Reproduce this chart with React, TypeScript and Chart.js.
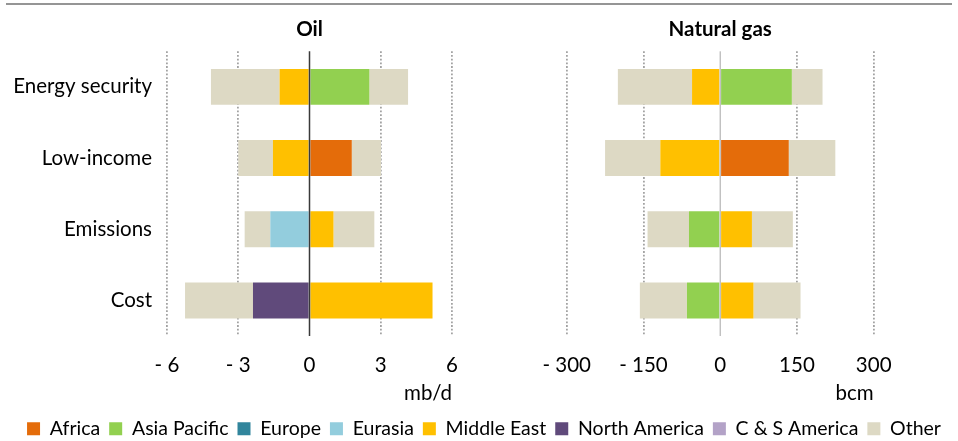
import React, { useEffect, useRef } from 'react';
import { Chart, registerables } from 'chart.js';

Chart.register(...registerables);

// ---------- data ----------
const categories = ['Energy security', 'Low-income', 'Emissions', 'Cost'];
const regionNames = ['Africa', 'Asia Pacific', 'Europe', 'Eurasia', 'Middle East', 'North America', 'C & S America', 'Other'];
const regionColors = ['#E46C0A', '#92D050', '#31859C', '#93CDDD', '#FFC000', '#604A7B', '#B3A2C7', '#DDD9C4'];

// Oil (mb/d)
const oilAfrica = [null, 1.78, null, null];
const oilAsiaPacific = [2.52, null, null, null];
const oilEurope = [null, null, null, null];
const oilEurasia = [null, null, -1.65, null];
const oilMiddleEast = [-1.26, -1.54, 1.01, 5.18];
const oilNorthAmerica = [null, null, null, -2.38];
const oilCSAmerica = [null, null, null, null];
const oilOtherNeg = [-2.89, -1.46, -1.08, -2.86];
const oilOtherPos = [1.63, 1.23, 1.72, null];

// Natural gas (bcm)
const gasAfrica = [null, 134, null, null];
const gasAsiaPacific = [140, null, -61, -65];
const gasEurope = [null, null, null, null];
const gasEurasia = [null, null, null, null];
const gasMiddleEast = [-55, -117, 62, 65];
const gasNorthAmerica = [null, null, null, null];
const gasCSAmerica = [null, null, null, null];
const gasOtherNeg = [-145, -108, -81, -92];
const gasOtherPos = [60, 91, 80, 92];

const oilTicks = [-6, -3, 0, 3, 6];
const gasTicks = [-300, -150, 0, 150, 300];

const FONT = 'Lato';
const W = 958;
const H = 441;
const FS = 20.5;
const PAD_LEFT = 10;

function buildDatasets(series: (number | null)[][], otherPos: (number | null)[]) {
  const ds: any[] = series.map((data, i) => ({
    label: regionNames[i],
    data,
    backgroundColor: regionColors[i],
    borderWidth: 0,
    categoryPercentage: 1,
    barPercentage: 0.505,
  }));
  ds.push({
    label: 'Other ',
    data: otherPos,
    backgroundColor: regionColors[7],
    borderWidth: 0,
    categoryPercentage: 1,
    barPercentage: 0.505,
  });
  return ds;
}

const tickFmt = (v: any) => {
  const n = Number(v);
  return n < 0 ? '- ' + Math.abs(n) : String(n);
};

function zeroLinePlugin(color: string, width: number) {
  return {
    id: 'zeroLine',
    afterDatasetsDraw(chart: any) {
      const xs = chart.scales.x;
      const area = chart.chartArea;
      const ctx = chart.ctx;
      const px = xs.getPixelForValue(0);
      ctx.save();
      ctx.strokeStyle = color;
      ctx.lineWidth = width;
      ctx.beginPath();
      ctx.moveTo(px, area.top);
      ctx.lineTo(px, area.bottom);
      ctx.stroke();
      ctx.restore();
    },
  };
}

const topRulePlugin = {
  id: 'topRule',
  afterDraw(chart: any) {
    const ctx = chart.ctx;
    ctx.save();
    ctx.strokeStyle = '#959595';
    ctx.lineWidth = 2;
    ctx.beginPath();
    ctx.moveTo(6, 4);
    ctx.lineTo(952, 4);
    ctx.stroke();
    ctx.restore();
  },
};

function xScale(ticks: number[], unit: string) {
  return {
    type: 'linear',
    position: 'bottom',
    stacked: true,
    min: ticks[0],
    max: ticks[ticks.length - 1],
    afterBuildTicks: (s: any) => {
      s.ticks = ticks.map((v) => ({ value: v }));
    },
    afterFit: (s: any) => {
      s.height = 74;
    },
    grid: {
      drawTicks: false,
      lineWidth: 1.8,
      color: (c: any) => (c.tick && c.tick.value === 0 ? 'rgba(0,0,0,0)' : '#A3A3A3'),
    },
    border: { display: false, dash: [1.8, 1.9] },
    ticks: {
      padding: 16.7,
      color: '#000',
      font: { family: FONT, size: FS },
      callback: tickFmt,
    },
    title: {
      display: true,
      text: unit,
      align: 'end',
      color: '#000',
      font: { family: FONT, size: FS },
      padding: { top: 0, bottom: 4 },
    },
  };
}

const titleOpts = (text: string) => ({
  display: true,
  text,
  fullSize: false,
  color: '#000',
  font: { family: FONT, size: FS, weight: 'bold' },
  padding: { top: 16.7, bottom: 10 },
});

export default function App() {
  const oilRef = useRef<HTMLCanvasElement>(null);
  const gasRef = useRef<HTMLCanvasElement>(null);

  useEffect(() => {
    Chart.defaults.font.family = FONT;
    Chart.defaults.color = '#000';

    const oil = new Chart(oilRef.current as HTMLCanvasElement, {
      type: 'bar',
      data: {
        labels: categories,
        datasets: buildDatasets(
          [oilAfrica, oilAsiaPacific, oilEurope, oilEurasia, oilMiddleEast, oilNorthAmerica, oilCSAmerica, oilOtherNeg],
          oilOtherPos
        ),
      },
      options: {
        indexAxis: 'y',
        animation: false,
        responsive: false,
        layout: { padding: { top: 0, left: PAD_LEFT, right: 0, bottom: -7.5 } },
        scales: {
          x: xScale(oilTicks, 'mb/d') as any,
          y: {
            type: 'category',
            stacked: true,
            grid: { display: false, drawTicks: false },
            border: { display: false },
            afterFit: (s: any) => {
              s.width = 167 - PAD_LEFT;
            },
            ticks: { padding: 15, color: '#000', font: { family: FONT, size: FS } },
          },
          yPad: {
            type: 'linear',
            position: 'right',
            display: true,
            grid: { display: false },
            border: { display: false },
            ticks: { display: false },
            afterFit: (s: any) => {
              s.width = W - 452;
            },
          },
        } as any,
        plugins: {
          title: titleOpts('Oil') as any,
          tooltip: { enabled: false },
          legend: {
            display: true,
            position: 'bottom',
            labels: {
              boxWidth: 13,
              boxHeight: 13,
              padding: 9,
              color: '#000',
              font: { family: FONT, size: 19.5 },
              filter: (item: any) => item.datasetIndex !== 8,
            },
          },
        },
      },
      plugins: [zeroLinePlugin('#3A3A3A', 1.5), topRulePlugin],
    });

    const gas = new Chart(gasRef.current as HTMLCanvasElement, {
      type: 'bar',
      data: {
        labels: categories,
        datasets: buildDatasets(
          [gasAfrica, gasAsiaPacific, gasEurope, gasEurasia, gasMiddleEast, gasNorthAmerica, gasCSAmerica, gasOtherNeg],
          gasOtherPos
        ),
      },
      options: {
        indexAxis: 'y',
        animation: false,
        responsive: false,
        layout: { padding: { top: 0, left: 566.7, right: W - 873.7, bottom: 31 } },
        scales: {
          x: xScale(gasTicks, 'bcm') as any,
          y: {
            type: 'category',
            stacked: true,
            display: false,
          },
        } as any,
        plugins: {
          title: titleOpts('Natural gas') as any,
          tooltip: { enabled: false },
          legend: { display: false },
        },
      },
      plugins: [zeroLinePlugin('#A6A6A6', 1)],
    });

    return () => {
      oil.destroy();
      gas.destroy();
    };
  }, []);

  return (
    <div style={{ position: 'absolute', left: 0, top: 0, width: W, height: H, background: '#fff', overflow: 'hidden' }}>
      <canvas ref={oilRef} width={W} height={H} style={{ position: 'absolute', left: 0, top: 0, width: W, height: H }} />
      <canvas ref={gasRef} width={W} height={H} style={{ position: 'absolute', left: 0, top: 0, width: W, height: H }} />
    </div>
  );
}
